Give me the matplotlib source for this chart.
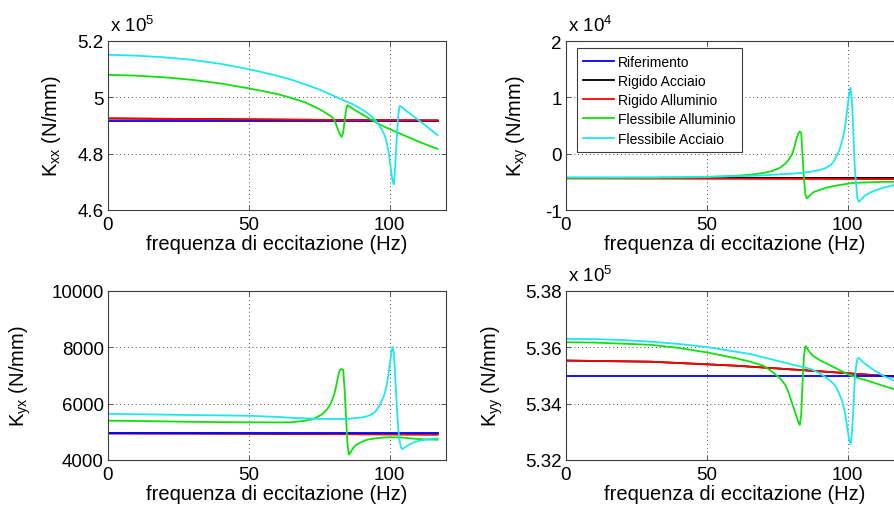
import matplotlib
matplotlib.use("Agg")
import matplotlib.pyplot as plt
import numpy as np

plt.rcParams["font.family"] = ["Liberation Sans", "DejaVu Sans"]
plt.rcParams["mathtext.default"] = "regular"

# ---------------------------------------------------------------- data
series_names = ["Riferimento", "Rigido Acciaio", "Rigido Alluminio",
                "Flessibile Alluminio", "Flessibile Acciaio"]
series_colors = ["#0000ff", "#000000", "#ff0000", "#10e010", "#1ee8ee"]

# excitation frequency (Hz) for each kind of model
freq_rigid = [0, 30, 60, 90, 117]
freq_green = [0, 10, 20, 30, 40, 50, 60, 65, 70, 73, 76, 78, 79, 80, 80.5, 81,
              81.5, 82, 82.5, 83, 83.5, 84, 84.5, 85, 85.5, 86, 87, 88, 90, 92,
              95, 98, 101, 104, 107, 110, 113, 117]
freq_cyan = [0, 10, 20, 30, 40, 50, 60, 65, 70, 75, 80, 84, 87, 90, 92, 94, 95,
             96, 97, 98, 98.5, 99, 99.5, 100, 100.5, 101, 101.5, 102, 102.5, 103,
             103.5, 104, 104.5, 105, 106, 107, 108, 110, 113, 117]

# K_xx  (x 10^5 N/mm)
kxx_rif = [4.915, 4.915, 4.915, 4.915, 4.915]
kxx_rig_acc = [4.925, 4.923, 4.921, 4.919, 4.918]
kxx_rig_all = [4.925, 4.923, 4.921, 4.919, 4.918]
kxx_fl_all = [5.080, 5.077, 5.071, 5.062, 5.049, 5.032, 5.012, 4.998, 4.982,
              4.968, 4.953, 4.940, 4.934, 4.925, 4.916, 4.903, 4.889, 4.877,
              4.866, 4.859, 4.875, 4.915, 4.955, 4.973, 4.969, 4.966, 4.959,
              4.953, 4.941, 4.929, 4.912, 4.896, 4.883, 4.870, 4.857, 4.844,
              4.832, 4.817]
kxx_fl_acc = [5.151, 5.148, 5.142, 5.133, 5.119, 5.100, 5.077, 5.063, 5.046,
              5.028, 5.006, 4.988, 4.975, 4.958, 4.945, 4.928, 4.918, 4.905,
              4.890, 4.870, 4.857, 4.838, 4.812, 4.778, 4.740, 4.705, 4.690,
              4.760, 4.850, 4.930, 4.970, 4.967, 4.963, 4.959, 4.951, 4.944,
              4.936, 4.921, 4.898, 4.866]

# K_xy  (x 10^4 N/mm)
kxy_rif = [-0.44, -0.44, -0.44, -0.44, -0.44]
kxy_rig_acc = [-0.44, -0.44, -0.44, -0.44, -0.44]
kxy_rig_all = [-0.44, -0.443, -0.446, -0.449, -0.452]
kxy_fl_all = [-0.43, -0.43, -0.43, -0.428, -0.425, -0.415, -0.395, -0.375,
              -0.345, -0.31, -0.25, -0.17, -0.11, -0.035, 0.02, 0.10, 0.20,
              0.29, 0.36, 0.39, 0.37, -0.05, -0.45, -0.72, -0.80, -0.77, -0.72,
              -0.68, -0.645, -0.61, -0.575, -0.55, -0.525, -0.515, -0.51,
              -0.505, -0.50, -0.50]
kxy_fl_acc = [-0.42, -0.42, -0.42, -0.42, -0.415, -0.41, -0.40, -0.395,
              -0.385, -0.37, -0.355, -0.34, -0.32, -0.29, -0.26, -0.20, -0.14,
              -0.05, 0.05, 0.22, 0.32, 0.45, 0.64, 0.85, 1.05, 1.18, 0.95,
              0.40, -0.22, -0.55, -0.80, -0.86, -0.83, -0.80, -0.75, -0.72,
              -0.69, -0.65, -0.60, -0.55]

# K_yx  (N/mm)
kyx_rif = [4950, 4950, 4950, 4950, 4950]
kyx_rig_acc = [4945, 4940, 4930, 4915, 4905]
kyx_rig_all = [4945, 4940, 4930, 4915, 4905]
kyx_fl_all = [5395, 5385, 5370, 5355, 5345, 5338, 5335, 5340, 5395, 5460,
              5620, 5830, 5990, 6230, 6400, 6620, 6870, 7110, 7210, 7230, 7200,
              6500, 5550, 4600, 4180, 4250, 4420, 4530, 4640, 4720, 4770, 4800,
              4805, 4800, 4770, 4745, 4730, 4720]
kyx_fl_acc = [5640, 5625, 5610, 5595, 5585, 5570, 5530, 5500, 5478, 5462,
              5455, 5455, 5480, 5510, 5550, 5640, 5730, 5870, 6050, 6290, 6470,
              6700, 6980, 7350, 7750, 8030, 7800, 6900, 6000, 5150, 4700, 4450,
              4390, 4420, 4490, 4545, 4600, 4670, 4730, 4770]

# K_yy  (x 10^5 N/mm)
kyy_rif = [5.3499, 5.3499, 5.3499, 5.3499, 5.3499]
kyy_rig_acc = [5.3553, 5.3549, 5.3535, 5.3515, 5.3496]
kyy_rig_all = [5.3553, 5.3549, 5.3535, 5.3515, 5.3496]
kyy_fl_all = [5.3618, 5.3617, 5.3613, 5.3609, 5.3598, 5.3582, 5.3562, 5.3550,
              5.3535, 5.3515, 5.3490, 5.3465, 5.3440, 5.3410, 5.3395, 5.3380,
              5.3365, 5.3350, 5.3335, 5.3323, 5.3360, 5.3480, 5.3570, 5.3605,
              5.3598, 5.3590, 5.3577, 5.3568, 5.3555, 5.3545, 5.3530, 5.3515,
              5.3500, 5.3490, 5.3482, 5.3472, 5.3462, 5.3450]
kyy_fl_acc = [5.3630, 5.3629, 5.3626, 5.3620, 5.3612, 5.3601, 5.3585, 5.3577,
              5.3565, 5.3552, 5.3540, 5.3530, 5.3523, 5.3508, 5.3495, 5.3480,
              5.3470, 5.3458, 5.3435, 5.3410, 5.3390, 5.3370, 5.3340, 5.3305,
              5.3275, 5.3255, 5.3290, 5.3380, 5.3480, 5.3535, 5.3560, 5.3562,
              5.3557, 5.3552, 5.3543, 5.3536, 5.3528, 5.3515, 5.3497, 5.3480]

# ---------------------------------------------------------------- figure
fig = plt.figure(figsize=(8.95, 5.06), dpi=100)

W, H = 338 / 895, 169 / 506
panels = [
    dict(rect=[108 / 895, 295 / 506, W, H],
         data=[kxx_rif, kxx_rig_acc, kxx_rig_all, kxx_fl_all, kxx_fl_acc],
         ylim=(4.6, 5.2), yticks=[4.6, 4.8, 5.0, 5.2],
         yticklabels=["4.6", "4.8", "5", "5.2"],
         ylabel=r"K$_{xx}$ (N/mm)", label_x=-0.133, mult="5",
         order=[0, 1, 2, 3, 4]),
    dict(rect=[566 / 895, 295 / 506, W, H],
         data=[kxy_rif, kxy_rig_acc, kxy_rig_all, kxy_fl_all, kxy_fl_acc],
         ylim=(-1, 2), yticks=[-1, 0, 1, 2],
         yticklabels=["-1", "0", "1", "2"],
         ylabel=r"K$_{xy}$ (N/mm)", label_x=-0.107, mult="4",
         order=[0, 1, 2, 3, 4]),
    dict(rect=[108 / 895, 45 / 506, W, H],
         data=[kyx_rif, kyx_rig_acc, kyx_rig_all, kyx_fl_all, kyx_fl_acc],
         ylim=(4000, 10000), yticks=[4000, 6000, 8000, 10000],
         yticklabels=["4000", "6000", "8000", "10000"],
         ylabel=r"K$_{yx}$ (N/mm)", label_x=-0.222, mult=None,
         order=[1, 2, 0, 3, 4]),
    dict(rect=[566 / 895, 45 / 506, W, H],
         data=[kyy_rif, kyy_rig_acc, kyy_rig_all, kyy_fl_all, kyy_fl_acc],
         ylim=(5.32, 5.38), yticks=[5.32, 5.34, 5.36, 5.38],
         yticklabels=["5.32", "5.34", "5.36", "5.38"],
         ylabel=r"K$_{yy}$ (N/mm)", label_x=-0.180, mult="5",
         order=[1, 2, 0, 3, 4]),
]

freqs = [freq_rigid, freq_rigid, freq_rigid, freq_green, freq_cyan]
edge = "#3c3c3c"
legend_handles = None

for k, p in enumerate(panels):
    ax = fig.add_axes(p["rect"])
    handles = [None] * 5
    for i in p["order"]:
        (ln,) = ax.plot(freqs[i], p["data"][i], color=series_colors[i],
                        lw=1.3, label=series_names[i], solid_joinstyle="miter")
        handles[i] = ln
    if k == 1:
        legend_handles = handles

    ax.set_xlim(0, 120)
    ax.set_ylim(*p["ylim"])
    ax.set_xticks([0, 50, 100])
    ax.set_xticklabels(["0", "50", "100"])
    ax.set_yticks(p["yticks"])
    ax.set_yticklabels(p["yticklabels"])
    ax.tick_params(direction="in", length=3.5, width=0.6, color=edge,
                   labelsize=13.5, top=True, right=True, pad=3)
    ax.tick_params(axis="x", pad=4)
    ax.grid(True, linestyle=(0, (1, 3)), color="#505050", lw=0.7)
    for s in ax.spines.values():
        s.set_color(edge)
        s.set_linewidth(0.8)

    ax.set_xlabel("frequenza di eccitazione (Hz)", fontsize=14.5)
    ax.xaxis.set_label_coords(0.5, -0.14)
    ax.set_ylabel(p["ylabel"], fontsize=14.5)
    ax.yaxis.set_label_coords(p["label_x"], 0.5)

    if p["mult"] is not None:
        ax.annotate(r"x 10$^{%s}$" % p["mult"], xy=(0, 1),
                    xycoords="axes fraction", xytext=(1.5, 7.5),
                    textcoords="offset points", ha="left", va="baseline",
                    fontsize=13.5)

    if k == 1:
        leg = ax.legend(handles=legend_handles, loc="upper left",
                        bbox_to_anchor=(0.032, 0.957), borderaxespad=0,
                        fontsize=10, handlelength=2.2, handletextpad=0.3,
                        labelspacing=0.38, borderpad=0.45, fancybox=False,
                        framealpha=1, edgecolor=edge)
        leg.get_frame().set_linewidth(0.8)

fig.savefig("out.png", dpi=100, facecolor="white")
